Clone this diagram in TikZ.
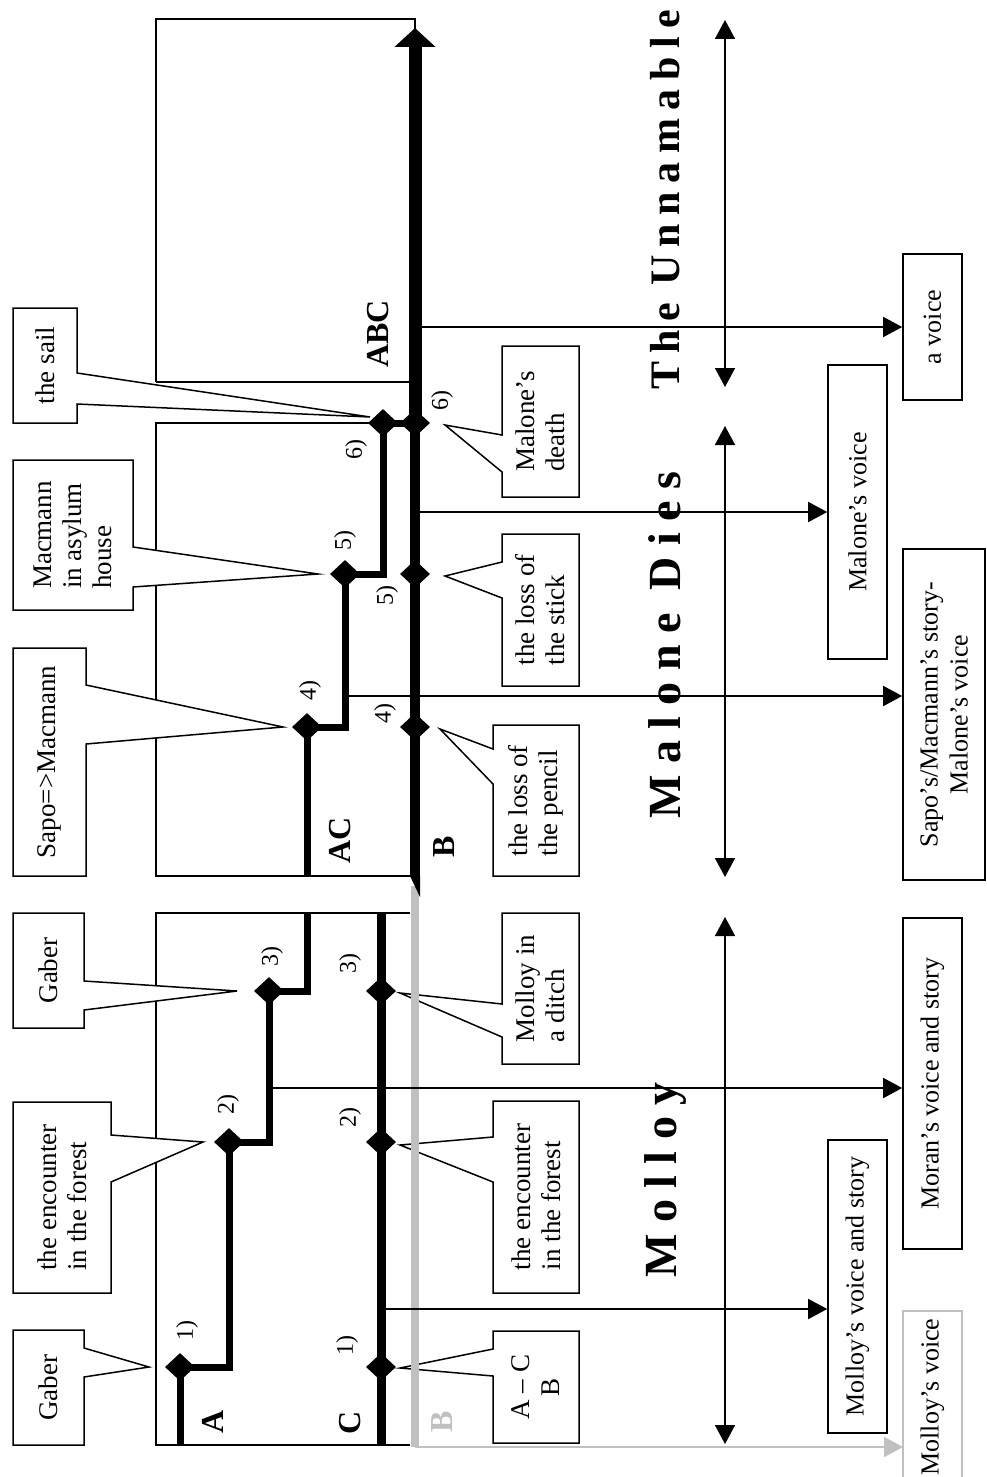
\documentclass[tikz,border=0pt]{standalone}
\usepackage{fontspec}
\setmainfont{Liberation Serif}
\usetikzlibrary{shapes.geometric,arrows.meta,calc}
\definecolor{lgray}{HTML}{C0C0C0}
\newcommand{\cofont}{\fontsize{27}{30}\selectfont}
\newcommand{\vofont}{\fontsize{26}{30}\selectfont}
\newcommand{\numfont}{\fontsize{24}{26}\selectfont}
\newcommand{\lblfont}{\fontsize{32}{34}\selectfont\bfseries}
\newcommand{\ttlfont}{\fontsize{46}{50}\selectfont\bfseries}
% callout with its tail on the right side
\newcommand{\callL}[9]{%
  \draw[cobox] (#2,#3) -- (#4,#3) -- (#4,#6) -- (#8) -- (#4,#7) -- (#4,#5) -- (#2,#5) -- cycle;
  \node[txt] (#1) at ($(#2,#3)!.5!(#4,#5)$) {#9};}
% callout with its tail on the left side
\newcommand{\callR}[9]{%
  \draw[cobox] (#2,#3) -- (#4,#3) -- (#4,#5) -- (#2,#5) -- (#2,#7) -- (#8) -- (#2,#6) -- cycle;
  \node[txt] (#1) at ($(#2,#3)!.5!(#4,#5)$) {#9};}
\begin{document}
\begin{tikzpicture}[x=1pt,y=-1pt,line join=miter,
    frame/.style={line width=1.8},
    cobox/.style={draw,fill=white,line width=1.5},
    txt/.style={rotate=90,align=left,font=\cofont,inner sep=0},
    vbox/.style={draw,line width=1.6,rotate=90,align=center,font=\vofont,inner sep=0},
    dia/.style={diamond,fill,inner sep=0,minimum width=30,minimum height=28},
    num/.style={rotate=90,font=\numfont,inner sep=0},
    lbl/.style={rotate=90,font=\lblfont,inner sep=0},
    ttl/.style={rotate=90,font=\ttlfont,inner sep=0},
    arr/.style={-{Triangle[length=19pt,width=20pt]},line width=1.6},
    dbl/.style={{Triangle[length=19pt,width=20pt]}-{Triangle[length=19pt,width=20pt]},line width=1.6}]
  \useasboundingbox (0,0) rectangle (987,1477);
  % frames of the three books
  \draw[frame] (156,382) -- (156,19) -- (415,19) -- (415,30);
  \draw[frame] (156,382) -- (410,382);
  \draw[frame] (383,423) -- (156,423) -- (156,876) -- (410,876);
  \draw[frame] (410,913) -- (156,913) -- (156,1445) -- (410,1445);
  % points on the tracks
  \coordinate (a1) at (180,1367); \coordinate (a2) at (229,1142); \coordinate (a3) at (269,991);
  \coordinate (a4) at (307,727);  \coordinate (a5) at (345,574);  \coordinate (a6) at (383,423);
  \coordinate (c1) at (381,1367); \coordinate (c2) at (381,1142); \coordinate (c3) at (381,991);
  \coordinate (b4) at (415,727);  \coordinate (b5) at (415,574);  \coordinate (b6) at (415,423);
  % callouts
  \callL{gabA}{13}{1330}{84}{1445}{1348}{1377}{$(a1)+(-31,0)$}{Gaber}
  \callL{encA}{13}{1102}{111}{1293}{1135}{1182}{$(a2)+(-26,0)$}{the encounter\\in the forest}
  \callL{gabB}{13}{913}{84}{1028}{981}{1010}{$(a3)+(-32,0)$}{Gaber}
  \callL{sapo}{13}{648}{86}{876}{685}{744}{$(a4)+(-24,0)$}{Sapo=>Macmann}
  \callL{macm}{13}{460}{133}{610}{547}{587}{$(a5)+(-27,0)$}{Macmann\\in asylum\\house}
  \callL{sail}{13}{308}{77}{423}{373}{404}{$(a6)+(-13,-6)$}{the sail}
  \draw[cobox] (493,1331) -- (579,1331) -- (579,1443) -- (493,1443) -- (493,1376) -- ($(c1)+(19,1)$) -- (493,1349) -- cycle;
  \node[txt,align=center] (acb) at (536,1387) {A -- C\\B};
  \callR{encC}{493}{1101}{579}{1293}{1137}{1182}{$(c2)+(19,3)$}{the encounter\\in the forest}
  \callR{ditch}{502}{913}{579}{1064}{1004}{1037}{$(c3)+(19,2)$}{Molloy in\\a ditch}
  \callR{pencil}{493}{725}{579}{876}{749}{784}{$(b4)+(25,2)$}{the loss of\\the pencil}
  \callR{stick}{502}{534}{579}{686}{562}{598}{$(b5)+(30,2)$}{the loss of\\the stick}
  \callR{death}{502}{346}{579}{497}{435}{472}{$(b6)+(30,2)$}{Malone’s\\death}
  % tracks
  \draw[line width=7] (180,1445) -- (a1) -- (a1 -| a2) -- (a2) -- (a2 -| a3) -- (a3) -- (307,991) -- (307,913);
  \draw[line width=7] (307,876) -- (a4) -- (a4 -| a5) -- (a5) -- (a5 -| a6) -- (a6) -- (b6);
  \draw[line width=9] (381,1445) -- (381,913);
  \draw[line width=8,lgray] (415,1447) -- (415,886);
  \draw[line width=10] (415,877) -- (b6);
  \fill (410,876) -- (420,876) -- (420,897) -- cycle;
  \draw[line width=13,-{Triangle[length=19pt,width=40pt]}] (b6) -- (415,28);
  \foreach \p in {a1,a2,a3,a4,a5,a6,c1,c2,c3,b4,b5,b6}
    \node[dia] (d\p) at (\p) {};
  \foreach \p/\t/\dx/\dy in {a1/1/7/-37,a2/2/-1/-38,a3/3/3/-35,a4/4/3/-37,a5/5/0/-34,a6/6/-27/26,
      c1/1/-34/-22,c2/2/-31/-25,c3/3/-31/-28,b4/4/-30/-14,b5/5/-28/21,b6/6/27/-23}
    \node[num] (n\p) at ($(\p)+(\dx,\dy)$) {\t)};
  \node[lbl] (lA) at (213,1422) {A};
  \node[lbl] (lC) at (350,1423) {C};
  \node[lbl,lgray] (lB0) at (442,1422) {B};
  \node[lbl] (lAC) at (340,840) {AC};
  \node[lbl] (lB) at (444,847) {B};
  \node[lbl] (lABC) at (378,334) {ABC};
  % voices
  \node[vbox,minimum width=146,minimum height=59] (avoice) at (932.5,327) {a voice};
  \node[vbox,minimum width=294,minimum height=59] (malv) at (857.5,512) {Malone’s voice};
  \node[vbox,minimum width=331,minimum height=82] (sapv) at (944,714.5) {Sapo’s/Macmann’s story-\\Malone’s voice};
  \node[vbox,minimum width=331,minimum height=59] (moran) at (932.5,1083.5) {Moran’s voice and story};
  \node[vbox,minimum width=293,minimum height=59] (molvs) at (857.5,1286.5) {Molloy’s voice and story};
  \draw[line width=1.6,lgray] (903,1477) -- (903,1311) -- (962,1311) -- (962,1477);
  \node[txt,font=\vofont] (molv) at (932.5,1397) {Molloy’s voice};
  \coordinate (s1) at (415,327); \coordinate (s2) at (415,512); \coordinate (s3) at (345,696);
  \coordinate (s4) at (269,1088); \coordinate (s5) at (381,1309); \coordinate (s6) at (415,1447);
  \coordinate (mv) at (903,1447);
  \draw[arr] (s1) -- (s1 -| avoice.north);
  \draw[arr] (s2) -- (s2 -| malv.north);
  \draw[arr] (s3) -- (s3 -| sapv.north);
  \draw[arr] (s4) -- (s4 -| moran.north);
  \draw[arr] (s5) -- (s5 -| molvs.north);
  \draw[arr,lgray] (s6) -- (mv);
  % the three books
  \foreach \a/\b in {20/387,426/877,917/1444}
    \draw[dbl] (725,\a) -- (725,\b);
  \node[ttl,font=\fontsize{42}{46}\selectfont\bfseries] (tU) at (665,200)
    {\spaceskip=8.5pt T h e\hspace{17pt}U n n a m a b l e};
  \node[ttl] (tM) at (665,645) {M a l o n e\hspace{23pt}D i e s};
  \node[ttl] (tMo) at (665,1180) {M o l l o y};
\end{tikzpicture}
\end{document}
